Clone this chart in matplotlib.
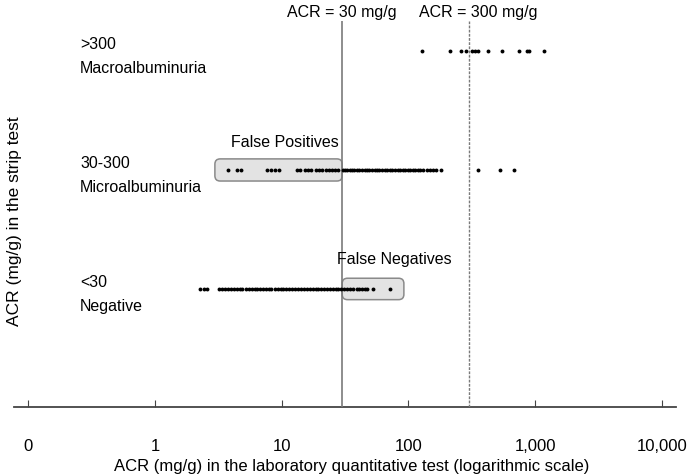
import numpy as np
import matplotlib
matplotlib.use("Agg")
import matplotlib.pyplot as plt
from matplotlib.patches import FancyBboxPatch
from matplotlib.transforms import blended_transform_factory

plt.rcParams['font.family'] = ['Liberation Sans', 'DejaVu Sans']

# valores (ACR cuantitativo, mg/g) por categoría de la tira
macro_vals = [127, 212, 259, 283, 317, 334, 353, 424, 547, 745, 861, 893, 1174]

micro_vals = [3.8, 4.4, 4.8, 7.6, 8.2, 8.9, 9.6, 13.1, 13.9, 15.3, 16.1, 17.0,
              18.6, 19.7, 20.8, 22.4, 23.6, 24.9, 26.3, 27.8,
              30.5, 31.5, 33, 34.5, 36, 37.5, 39, 41, 43, 45, 47, 49, 51.5, 54,
              56.5, 59, 62, 65, 68, 71, 74.5, 78,
              82.5, 86, 90, 94, 98.5, 103, 108, 113, 118, 124, 130,
              141, 148, 156, 165, 180,
              353, 527, 679]

neg_vals = [2.28, 2.42, 2.56,
            3.2, 3.4, 3.6, 3.8, 4.0, 4.2, 4.4, 4.7, 4.9, 5.2, 5.5, 5.8, 6.1,
            6.4, 6.8, 7.1, 7.5, 7.9, 8.3, 8.8, 9.3, 9.8, 10.3, 10.9, 11.5,
            12.1, 12.8, 13.5, 14.2, 15, 15.8, 16.6, 17.5, 18.5, 19.5, 20.5,
            21.6, 22.8, 24, 25.3, 26.6, 28, 29.5, 31,
            33, 34.5, 36.5, 39, 41, 43, 45, 47, 52.5, 71.5]

row_labels = ['<30\nNegative', '30-300\nMicroalbuminuria', '>300\nMacroalbuminuria']
tick_vals = [0.1, 1, 10, 100, 1000, 10000]
tick_labels = ['0', '1', '10', '100', '1,000', '10,000']
cutoffs = [30, 300]

xmin, xmax = 0.0772, 12890
ymin, ymax = -0.992, 2.252

fig = plt.figure(figsize=(6.88, 4.77), dpi=100)
ax = fig.add_axes([0.0203, 0.1447, 0.9622, 0.8092])
ax.set_xscale('log')
ax.set_xlim(xmin, xmax)
ax.set_ylim(ymin, ymax)

# puntos
for y, vals in enumerate([neg_vals, micro_vals, macro_vals]):
    ax.plot(vals, [y] * len(vals), 'o', color='black', ms=2.8, mew=0, zorder=4)

# líneas de corte
ax.axvline(cutoffs[0], color='#7a7a7a', lw=1.2, zorder=3)
ax.axvline(cutoffs[1], color='#7a7a7a', lw=1.0, ls=(0, (2, 1)), zorder=3)
tr_top = blended_transform_factory(ax.transData, ax.transAxes)
ax.text(cutoffs[0], 1.006, 'ACR = 30 mg/g', transform=tr_top,
        ha='center', va='bottom', fontsize=11.5)
ax.text(cutoffs[1] * 1.18, 1.006, 'ACR = 300 mg/g', transform=tr_top,
        ha='center', va='bottom', fontsize=11.5)

# etiquetas de las filas
trans = blended_transform_factory(ax.transAxes, ax.transData)
for y, lab in enumerate(row_labels):
    ax.text(0.0997, y - 0.035, lab, transform=trans, ha='left', va='center',
            fontsize=11.5, linespacing=1.75)

# cajas de falsos positivos / negativos
def frac(x):
    return (np.log10(x) - np.log10(xmin)) / (np.log10(xmax) - np.log10(xmin))

def yfrac(y):
    return (y - ymin) / (ymax - ymin)

def caja(x0, x1, yc, h):
    fx0, fx1 = frac(x0), frac(x1)
    fy0, fy1 = yfrac(yc - h), yfrac(yc + h)
    p = FancyBboxPatch((fx0, fy0), fx1 - fx0, fy1 - fy0,
                       boxstyle='round,pad=0,rounding_size=0.008',
                       mutation_aspect=662 / 386, transform=ax.transAxes,
                       facecolor='#e3e3e3', edgecolor='#8a8a8a', lw=1.1, zorder=2)
    ax.add_patch(p)

caja(2.97, 30, 1, 0.093)
caja(30, 92, 0, 0.09)
ax.text(10.6, 1 + 0.235, 'False Positives', ha='center', va='center', fontsize=11.5)
ax.text(78, 0 + 0.26, 'False Negatives', ha='center', va='center', fontsize=11.5)

# ejes
for s in ['left', 'right', 'top']:
    ax.spines[s].set_visible(False)
ax.spines['bottom'].set_color('#444444')
ax.spines['bottom'].set_linewidth(1.3)
ax.set_yticks([])
ax.set_xticks(tick_vals)
ax.set_xticklabels(tick_labels, fontsize=12)
ax.xaxis.set_minor_locator(matplotlib.ticker.NullLocator())
ax.tick_params(axis='x', direction='in', length=5, width=0.8, color='#444444', pad=22)

fig.text(0.5116, 0.022, 'ACR (mg/g) in the laboratory quantitative test (logarithmic scale)',
         ha='center', va='center', fontsize=12)
fig.text(0.021, 1 - 221 / 477, 'ACR (mg/g) in the strip test', rotation=90,
         ha='center', va='center', fontsize=12.5)

fig.savefig('out.png', dpi=100)
